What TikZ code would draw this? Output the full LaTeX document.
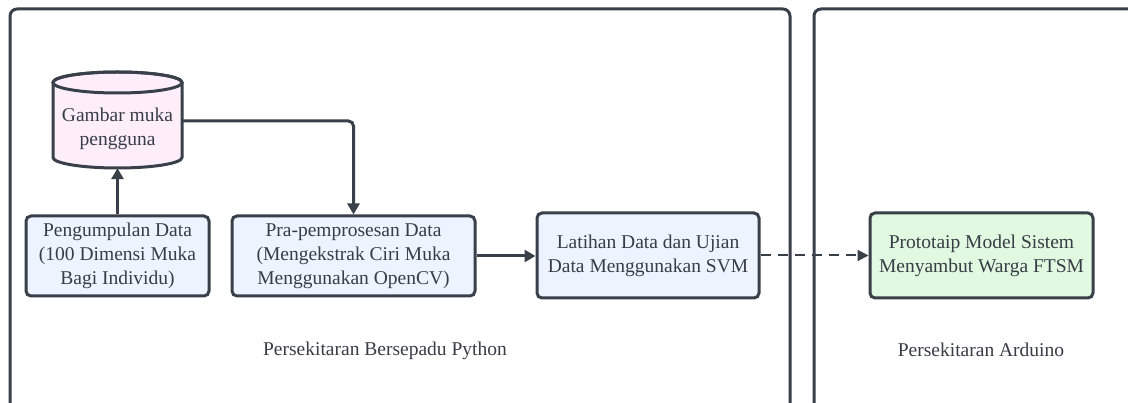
\documentclass[tikz,border=0pt]{standalone}
\usepackage{fontspec}
\setmainfont{Liberation Serif}
\usetikzlibrary{arrows.meta}
\definecolor{ink}{HTML}{3A4049}
\definecolor{txt}{HTML}{383D45}
\definecolor{bluefill}{HTML}{EDF4FF}
\definecolor{pinkfill}{HTML}{FDEEFA}
\definecolor{greenfill}{HTML}{E1F9E1}
\tikzset{
  txtstyle/.style={text=txt, font=\fontsize{19.5}{24}\selectfont, align=center},
  procbox/.style={txtstyle, draw=ink, line width=3pt, rounded corners=5pt, inner sep=0pt},
  frame/.style={draw=ink, line width=3pt, rounded corners=7pt},
  conn/.style={draw=ink, line width=3pt, -{Triangle[length=11pt,width=12pt]}},
  dashconn/.style={draw=ink, line width=2pt, dash pattern=on 10pt off 7pt, -{Triangle[length=11pt,width=11pt]}}
}
\begin{document}
\begin{tikzpicture}[x=1pt,y=1pt]
  \clip (0,0) rectangle (1128,-403);
  \fill[white] (0,0) rectangle (1128,-403);

  % environment frames
  \draw[frame] (10,-9) rectangle (790,-430);
  \draw[frame] (814,-9) rectangle (1150,-430);

  % database cylinder
  \node[minimum width=129pt, minimum height=96pt, inner sep=0pt] (db) at (117.5,-120) {};
  \filldraw[fill=pinkfill, draw=ink, line width=3pt]
    (53,-82.5) -- (53,-157.5)
    arc[start angle=180, end angle=360, x radius=64.5pt, y radius=10.5pt]
    -- (182,-82.5)
    arc[start angle=0, end angle=180, x radius=64.5pt, y radius=10.5pt] -- cycle;
  \draw[draw=ink, line width=3pt] (117.5,-82.5) ellipse[x radius=64.5pt, y radius=10.5pt];
  \node[txtstyle] (dblabel) at (117.5,-128.5) {Gambar muka\\pengguna};

  % process boxes
  \node[procbox, fill=bluefill, minimum width=183pt, minimum height=80pt] (collect) at (117.5,-256)
    {Pengumpulan Data\\(100 Dimensi Muka\\Bagi Individu)};
  \node[procbox, fill=bluefill, minimum width=243pt, minimum height=80pt] (prep) at (353.5,-256)
    {Pra-pemprosesan Data\\(Mengekstrak Ciri Muka\\Menggunakan OpenCV)};
  \node[procbox, fill=bluefill, minimum width=222pt, minimum height=85pt] (train) at (648,-255.5)
    {Latihan Data dan Ujian\\Data Menggunakan SVM};
  \node[procbox, fill=greenfill, minimum width=223pt, minimum height=85pt] (proto) at (981.5,-255.5)
    {Prototaip Model Sistem\\Menyambut Warga FTSM};

  % environment labels
  \node[txtstyle] (pylabel) at (385,-351) {Persekitaran Bersepadu Python};
  \node[txtstyle] (arlabel) at (981,-350) {Persekitaran Arduino};

  % connectors
  \draw[conn] (collect.north) -- (db.south);
  \draw[conn, rounded corners=5pt] ([yshift=-1pt]db.east) -| (prep.north);
  \draw[conn] (prep.east) -- (prep.east -| train.west);
  \draw[dashconn] (train.east) -- (proto.west);
\end{tikzpicture}
\end{document}
